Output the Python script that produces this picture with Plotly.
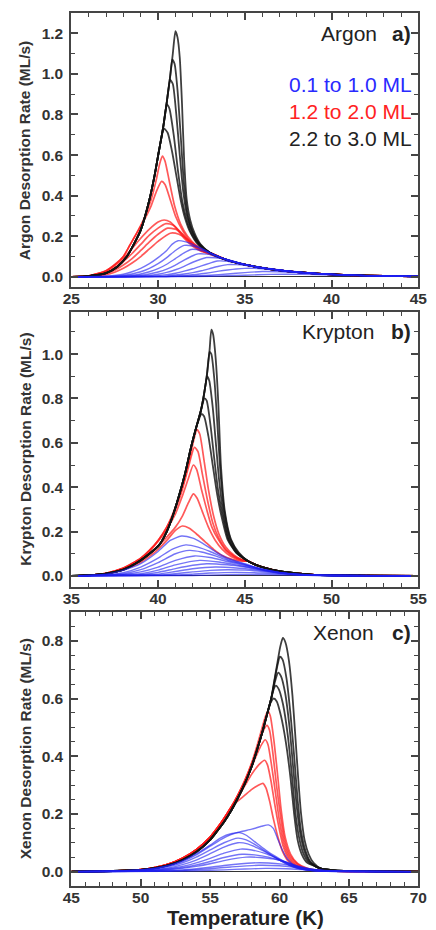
import plotly.graph_objects as go

# ---------------- DATA ----------------
# Argon panel (a)
ARGON_RANGE = [25, 45]
ARGON_BLACK_LEAD = [(25, 0), (26, 0.004), (27, 0.018), (27.65, 0.05), (28.2, 0.1), (28.6, 0.16),
                    (29, 0.23), (29.5, 0.38), (29.8, 0.5), (30.05, 0.62)]
ARGON_BLACK_TOPS = [
    [(30.3, 0.74), (30.5, 0.86), (30.7, 0.99), (30.85, 1.1), (31.0, 1.21), (31.12, 1.18), (31.25, 1.08),
     (31.38, 0.85), (31.5, 0.58), (31.65, 0.38), (31.85, 0.28), (32.1, 0.215), (32.45, 0.16)],
    [(30.3, 0.74), (30.5, 0.86), (30.7, 0.99), (30.82, 1.07), (30.95, 1.05), (31.12, 0.92), (31.3, 0.7),
     (31.5, 0.45), (31.72, 0.3), (32.0, 0.22), (32.4, 0.16)],
    [(30.3, 0.74), (30.5, 0.86), (30.7, 0.97), (30.85, 0.95), (31.05, 0.8), (31.25, 0.6), (31.45, 0.42),
     (31.7, 0.29), (32.0, 0.215), (32.4, 0.16)],
    [(30.3, 0.74), (30.5, 0.85), (30.65, 0.83), (30.9, 0.7), (31.15, 0.52), (31.4, 0.37), (31.65, 0.28),
     (31.95, 0.21), (32.4, 0.155)],
    [(30.35, 0.73), (30.55, 0.71), (30.8, 0.62), (31.05, 0.5), (31.3, 0.38), (31.55, 0.29), (31.85, 0.22),
     (32.3, 0.16)],
]
ARGON_TAIL = [(33, 0.118), (34, 0.082), (35, 0.06), (36, 0.044), (37, 0.032), (38, 0.023), (40, 0.012),
              (42, 0.006), (45, 0.002)]
ARGON_RED_LEAD = [(25, 0), (26, 0.005), (27, 0.03), (27.5, 0.06), (28, 0.1), (28.4, 0.16), (28.8, 0.22)]
ARGON_RED_TOPS = [
    [(29.2, 0.29), (29.6, 0.38), (29.9, 0.48), (30.1, 0.56), (30.25, 0.595), (30.4, 0.57), (30.65, 0.47),
     (30.95, 0.35), (31.3, 0.26), (31.7, 0.2), (32.2, 0.155)],
    [(29.2, 0.28), (29.6, 0.35), (29.9, 0.42), (30.2, 0.47), (30.4, 0.455), (30.7, 0.38), (31.0, 0.3),
     (31.4, 0.23), (31.8, 0.18), (32.3, 0.145)],
]
ARGON_RED_LOW = [
    [(25, 0), (26, 0.005), (27, 0.028), (27.5, 0.055), (28, 0.09), (28.5, 0.14), (29, 0.19), (29.5, 0.235),
     (30, 0.27), (30.35, 0.28), (30.7, 0.27), (31.1, 0.235), (31.5, 0.19), (32, 0.15), (32.5, 0.125)],
    [(25, 0), (26, 0.004), (27, 0.022), (27.5, 0.045), (28, 0.075), (28.5, 0.115), (29, 0.16), (29.5, 0.205),
     (30, 0.24), (30.45, 0.262), (30.85, 0.255), (31.3, 0.22), (31.7, 0.18), (32.2, 0.145), (32.7, 0.12)],
    [(25, 0), (26, 0.003), (27, 0.016), (27.5, 0.033), (28, 0.058), (28.5, 0.09), (29, 0.13), (29.5, 0.172),
     (30, 0.21), (30.55, 0.24), (31, 0.235), (31.4, 0.21), (31.8, 0.175), (32.3, 0.14), (32.8, 0.118)],
    [(25, 0), (26, 0.002), (27, 0.011), (27.5, 0.023), (28, 0.042), (28.5, 0.068), (29, 0.1), (29.5, 0.138),
     (30, 0.175), (30.7, 0.215), (31.2, 0.21), (31.6, 0.19), (32, 0.165), (32.5, 0.135), (33, 0.113),
     (33.5, 0.098)],
]
ARGON_BLUE = [
    [(25, 0), (26, 0.001), (27, 0.004), (28, 0.013), (28.5, 0.025), (29, 0.042), (29.5, 0.065), (30, 0.095),
     (30.5, 0.13), (30.8, 0.16), (31.15, 0.178), (31.6, 0.172), (32, 0.16), (32.5, 0.14), (33, 0.118),
     (33.5, 0.098), (34, 0.083)],
    [(25, 0), (27, 0.002), (28, 0.007), (28.5, 0.014), (29, 0.025), (29.5, 0.042), (30, 0.065), (30.5, 0.095),
     (31, 0.13), (31.5, 0.155), (32, 0.152), (32.5, 0.138), (33, 0.118), (33.5, 0.1), (34, 0.083)],
    [(25, 0), (27.5, 0.002), (28.5, 0.008), (29, 0.014), (29.5, 0.025), (30, 0.04), (30.5, 0.062), (31, 0.09),
     (31.5, 0.118), (31.9, 0.135), (32.5, 0.13), (33, 0.116), (33.5, 0.1), (34, 0.084)],
    [(25, 0), (28, 0.002), (29, 0.008), (29.5, 0.014), (30, 0.024), (30.5, 0.038), (31, 0.058), (31.5, 0.082),
     (32, 0.104), (32.3, 0.113), (32.8, 0.112), (33.3, 0.103), (34, 0.085)],
    [(25, 0), (28.5, 0.002), (29.5, 0.007), (30, 0.013), (30.5, 0.022), (31, 0.035), (31.5, 0.052), (32, 0.072),
     (32.5, 0.088), (32.8, 0.095), (33.3, 0.094), (34, 0.085)],
    [(25, 0), (29, 0.002), (30, 0.006), (30.5, 0.011), (31, 0.018), (31.5, 0.028), (32, 0.04), (32.5, 0.054),
     (33, 0.068), (33.4, 0.078), (34, 0.077), (34.5, 0.071), (35, 0.063)],
    [(25, 0), (29.5, 0.002), (30.5, 0.005), (31, 0.009), (31.5, 0.014), (32, 0.021), (32.5, 0.03), (33, 0.041),
     (33.5, 0.052), (34, 0.06), (34.5, 0.06), (35, 0.057), (36, 0.046), (37, 0.034), (38, 0.024)],
    [(25, 0), (30, 0.001), (31, 0.004), (32, 0.01), (32.5, 0.015), (33, 0.021), (33.5, 0.028), (34, 0.034),
     (34.5, 0.039), (35, 0.042), (35.5, 0.042), (36, 0.04), (37, 0.033), (38, 0.025)],
    [(25, 0), (30.5, 0.001), (32, 0.004), (33, 0.008), (34, 0.014), (35, 0.021), (36, 0.026), (37, 0.025),
     (38, 0.021), (39, 0.016), (40, 0.012)],
    [(25, 0), (31, 0.001), (33, 0.003), (35, 0.008), (36.5, 0.012), (37.5, 0.013), (39, 0.011), (41, 0.007),
     (43, 0.004), (45, 0.002)],
]
ARGON_BLUE_TAIL = [(35, 0.06), (36, 0.044), (37, 0.033), (38, 0.023), (40, 0.012), (42, 0.006), (45, 0.002)]

# Krypton panel (b)
KRYPTON_RANGE = [35, 55]
KRYPTON_BLACK_LEAD = [(35, 0), (36, 0.003), (37, 0.01), (38, 0.028), (38.8, 0.06), (39.5, 0.1), (40.07, 0.14),
                      (40.5, 0.2), (40.8, 0.26), (41.2, 0.36), (41.55, 0.46), (41.9, 0.58), (42.2, 0.67)]
KRYPTON_BLACK_TOPS = [
    [(42.45, 0.74), (42.65, 0.82), (42.82, 0.91), (42.97, 1.02), (43.07, 1.11), (43.17, 1.09), (43.32, 0.98),
     (43.47, 0.78), (43.62, 0.5), (43.85, 0.29), (44.2, 0.165), (44.65, 0.105)],
    [(42.45, 0.74), (42.65, 0.82), (42.82, 0.91), (42.97, 1.01), (43.07, 1.0), (43.25, 0.88), (43.42, 0.68),
     (43.58, 0.48), (43.8, 0.3), (44.15, 0.17), (44.6, 0.105)],
    [(42.45, 0.74), (42.65, 0.82), (42.83, 0.9), (42.95, 0.88), (43.15, 0.76), (43.35, 0.58), (43.52, 0.43),
     (43.75, 0.29), (44.1, 0.165), (44.55, 0.105)],
    [(42.45, 0.74), (42.68, 0.8), (42.8, 0.79), (43.02, 0.68), (43.25, 0.52), (43.45, 0.39), (43.7, 0.28),
     (44.05, 0.165), (44.5, 0.105)],
    [(42.5, 0.73), (42.65, 0.72), (42.9, 0.63), (43.15, 0.5), (43.4, 0.37), (43.65, 0.27), (44.0, 0.165),
     (44.5, 0.105)],
]
KRYPTON_TAIL = [(45.2, 0.066), (45.6, 0.051), (46, 0.04), (47, 0.021), (48, 0.011), (49, 0.005), (50, 0.003),
                (52, 0.001), (55, 0)]
KRYPTON_RED = [
    [(35, 0), (36, 0.003), (37, 0.012), (38, 0.035), (39, 0.08), (39.5, 0.115), (40, 0.16), (40.5, 0.22),
     (41, 0.31), (41.4, 0.4), (41.8, 0.52), (42.05, 0.61), (42.24, 0.66), (42.4, 0.64), (42.65, 0.52),
     (42.9, 0.39), (43.2, 0.27), (43.5, 0.19), (43.9, 0.13), (44.4, 0.092), (44.8, 0.075)],
    [(35, 0), (36, 0.003), (37, 0.012), (38, 0.035), (39, 0.08), (39.5, 0.115), (40, 0.16), (40.5, 0.22),
     (41, 0.3), (41.4, 0.39), (41.75, 0.49), (42.1, 0.58), (42.3, 0.56), (42.55, 0.46), (42.85, 0.34),
     (43.15, 0.24), (43.5, 0.17), (43.9, 0.12), (44.4, 0.088), (44.8, 0.073)],
    [(35, 0), (36, 0.003), (37, 0.012), (38, 0.034), (39, 0.078), (39.5, 0.112), (40, 0.155), (40.5, 0.21),
     (41, 0.28), (41.4, 0.36), (41.75, 0.44), (42.03, 0.5), (42.22, 0.48), (42.5, 0.39), (42.8, 0.3),
     (43.1, 0.22), (43.5, 0.16), (43.9, 0.115), (44.4, 0.085), (44.8, 0.072)],
    [(35, 0), (36, 0.003), (37, 0.011), (38, 0.032), (39, 0.072), (39.5, 0.1), (40, 0.135), (40.5, 0.175),
     (41, 0.22), (41.4, 0.27), (41.75, 0.33), (42.03, 0.37), (42.25, 0.35), (42.55, 0.29), (42.9, 0.22),
     (43.3, 0.16), (43.7, 0.12), (44.2, 0.088), (44.8, 0.07)],
    [(35, 0), (36, 0.003), (37, 0.01), (38, 0.028), (39, 0.062), (39.5, 0.088), (40, 0.12), (40.5, 0.16),
     (41, 0.205), (41.4, 0.225), (41.8, 0.215), (42.2, 0.19), (42.7, 0.155), (43.2, 0.12), (43.7, 0.092),
     (44.3, 0.074), (44.8, 0.066)],
]
KRYPTON_BLUE = [
    [(35, 0), (36, 0.002), (37, 0.008), (38, 0.025), (39, 0.055), (40, 0.11), (40.7, 0.16), (41.35, 0.18),
     (42, 0.17), (42.5, 0.15), (43, 0.125), (43.5, 0.1), (44, 0.08), (45, 0.055), (46, 0.03), (47, 0.016),
     (48, 0.007), (50, 0.002), (55, 0)],
    [(35, 0), (37, 0.005), (38, 0.015), (39, 0.04), (40, 0.08), (40.8, 0.12), (41.6, 0.14), (42.3, 0.13),
     (43, 0.11), (44, 0.075), (45, 0.052), (46, 0.03), (47, 0.015), (48, 0.007), (50, 0.002), (55, 0)],
    [(35, 0), (38, 0.01), (39, 0.028), (40, 0.06), (41, 0.1), (41.8, 0.115), (42.5, 0.108), (43.3, 0.09),
     (44, 0.07), (45, 0.05), (46, 0.03), (47, 0.015), (48, 0.007), (50, 0.002), (55, 0)],
    [(35, 0), (38, 0.006), (39, 0.018), (40, 0.04), (41, 0.07), (42.1, 0.09), (43, 0.083), (44, 0.065),
     (45, 0.047), (46, 0.028), (47, 0.014), (48, 0.006), (50, 0.002), (55, 0)],
    [(35, 0), (39, 0.01), (40, 0.026), (41, 0.05), (42.4, 0.07), (43.5, 0.063), (44.5, 0.05), (46, 0.027),
     (47, 0.014), (48, 0.006), (50, 0.002), (55, 0)],
    [(35, 0), (39, 0.006), (40, 0.016), (41, 0.033), (42, 0.048), (42.8, 0.055), (44, 0.05), (45, 0.04),
     (46, 0.026), (47, 0.014), (48.5, 0.005), (50, 0.002), (55, 0)],
    [(35, 0), (40, 0.008), (41, 0.02), (42, 0.032), (43.3, 0.04), (44.5, 0.036), (46, 0.024), (47, 0.013),
     (48.5, 0.005), (50, 0.002), (55, 0)],
    [(35, 0), (40, 0.004), (41, 0.01), (42, 0.018), (43, 0.025), (44, 0.028), (45, 0.026), (46, 0.02),
     (47, 0.012), (48, 0.006), (50, 0.002), (55, 0)],
    [(35, 0), (41, 0.004), (42, 0.008), (43, 0.013), (44.5, 0.016), (46, 0.013), (47.5, 0.008), (49, 0.003),
     (55, 0)],
    [(35, 0), (42, 0.002), (44, 0.006), (45, 0.007), (47, 0.005), (49, 0.002), (55, 0)],
]

# Xenon panel (c)
XENON_RANGE = [45, 70]
XENON_BLACK_LEAD = [(45, 0), (48, 0.002), (50, 0.006), (51, 0.012), (52, 0.022), (53, 0.04), (54, 0.068),
                    (55, 0.11), (55.5, 0.14), (56, 0.172), (56.5, 0.21), (57, 0.255), (57.5, 0.305), (58, 0.365),
                    (58.4, 0.425), (58.8, 0.49), (59.1, 0.545)]
XENON_BLACK_TOPS = [
    [(59.4, 0.6), (59.65, 0.67), (59.85, 0.725), (60.05, 0.78), (60.24, 0.81), (60.42, 0.795), (60.68, 0.73),
     (60.93, 0.61), (61.15, 0.46), (61.35, 0.32), (61.55, 0.2), (61.8, 0.11), (62.1, 0.06), (62.45, 0.03)],
    [(59.4, 0.6), (59.65, 0.665), (59.85, 0.715), (60.03, 0.745), (60.22, 0.735), (60.5, 0.67), (60.8, 0.54),
     (61.07, 0.39), (61.3, 0.25), (61.55, 0.14), (61.85, 0.075), (62.2, 0.036)],
    [(59.4, 0.6), (59.65, 0.655), (59.9, 0.69), (60.1, 0.678), (60.4, 0.62), (60.72, 0.5), (61.0, 0.35),
     (61.25, 0.22), (61.5, 0.13), (61.8, 0.07), (62.15, 0.035)],
    [(59.4, 0.6), (59.6, 0.635), (59.73, 0.645), (59.95, 0.632), (60.25, 0.58), (60.6, 0.47), (60.9, 0.33),
     (61.15, 0.2), (61.4, 0.12), (61.7, 0.065), (62.1, 0.032)],
    [(59.35, 0.585), (59.57, 0.6), (59.8, 0.59), (60.1, 0.54), (60.45, 0.45), (60.8, 0.32), (61.05, 0.2),
     (61.3, 0.11), (61.6, 0.06), (62.0, 0.03)],
]
XENON_TAIL = [(62.6, 0.018), (63, 0.01), (64, 0.004), (65, 0.002), (67, 0.0008), (70, 0)]
XENON_RED_LEAD = [(45, 0), (48, 0.002), (50, 0.007), (51, 0.014), (52, 0.026), (53, 0.046), (54, 0.076),
                  (55, 0.12), (55.5, 0.15), (56, 0.184), (56.5, 0.222)]
XENON_RED_TOPS = [
    [(57, 0.266), (57.5, 0.316), (58, 0.378), (58.4, 0.44), (58.75, 0.5), (59.0, 0.54), (59.16, 0.556),
     (59.33, 0.54), (59.58, 0.46), (59.85, 0.34), (60.1, 0.22), (60.4, 0.12), (60.8, 0.06), (61.3, 0.028),
     (62, 0.011)],
    [(57, 0.266), (57.5, 0.316), (58, 0.375), (58.4, 0.43), (58.75, 0.48), (59.09, 0.507), (59.28, 0.49),
     (59.52, 0.41), (59.78, 0.3), (60.05, 0.2), (60.35, 0.11), (60.75, 0.055), (61.3, 0.026), (62, 0.01)],
    [(57, 0.264), (57.5, 0.31), (58, 0.365), (58.4, 0.41), (58.7, 0.44), (58.97, 0.457), (59.17, 0.44),
     (59.42, 0.37), (59.7, 0.275), (59.98, 0.18), (60.3, 0.1), (60.7, 0.05), (61.2, 0.024), (62, 0.009)],
    [(57, 0.258), (57.5, 0.298), (58, 0.338), (58.5, 0.37), (58.93, 0.386), (59.13, 0.37), (59.38, 0.315),
     (59.65, 0.235), (59.95, 0.155), (60.25, 0.09), (60.65, 0.045), (61.2, 0.02), (62, 0.008)],
    [(57, 0.245), (57.5, 0.265), (58, 0.285), (58.5, 0.3), (58.8, 0.306), (59.02, 0.29), (59.28, 0.245),
     (59.57, 0.18), (59.88, 0.12), (60.2, 0.072), (60.6, 0.038), (61.2, 0.017), (62, 0.007)],
]
XENON_RED_TAIL = [(63, 0.003), (64, 0.0015), (66, 0.0005), (70, 0)]
XENON_BLUE = [
    [(45, 0), (48, 0.002), (50, 0.006), (51, 0.011), (52, 0.02), (53, 0.035), (54, 0.058), (55, 0.088),
     (55.8, 0.112), (56.5, 0.128), (57.2, 0.138), (58, 0.147), (58.7, 0.157), (59.2, 0.162), (59.55, 0.15),
     (59.85, 0.115), (60.2, 0.075), (60.6, 0.042), (61.1, 0.02), (61.8, 0.008), (63, 0.002), (70, 0)],
    [(45, 0), (48, 0.002), (50, 0.006), (51, 0.011), (52, 0.021), (53, 0.037), (54, 0.062), (55, 0.092),
     (55.8, 0.118), (56.5, 0.131), (57.1, 0.135), (57.6, 0.126), (58.2, 0.104), (59, 0.075), (59.8, 0.05),
     (60.5, 0.03), (61.2, 0.014), (62, 0.005), (63.5, 0.001), (70, 0)],
    [(45, 0), (48, 0.0015), (50, 0.005), (51, 0.009), (52, 0.017), (53, 0.03), (54, 0.05), (55, 0.075),
     (56, 0.1), (57, 0.116), (57.6, 0.11), (58.3, 0.092), (59, 0.07), (59.8, 0.046), (60.5, 0.027),
     (61.3, 0.011), (62.3, 0.004), (64, 0.001), (70, 0)],
    [(45, 0), (48, 0.001), (50, 0.004), (52, 0.013), (53, 0.024), (54, 0.04), (55, 0.062), (56, 0.085),
     (57, 0.1), (57.7, 0.096), (58.4, 0.082), (59.2, 0.062), (60, 0.04), (60.8, 0.021), (61.6, 0.009),
     (62.6, 0.003), (64, 0.001), (70, 0)],
    [(45, 0), (50, 0.003), (52, 0.01), (53, 0.018), (54, 0.03), (55, 0.046), (56, 0.064), (57.2, 0.078),
     (58, 0.075), (59, 0.062), (60, 0.042), (61, 0.022), (62, 0.008), (63.5, 0.002), (70, 0)],
    [(45, 0), (50, 0.002), (52, 0.008), (53, 0.014), (54, 0.023), (55, 0.035), (56, 0.049), (57.3, 0.06),
     (58.2, 0.058), (59.2, 0.05), (60.2, 0.036), (61.2, 0.019), (62.2, 0.007), (63.5, 0.002), (70, 0)],
    [(45, 0), (50, 0.0015), (52, 0.006), (53, 0.011), (54, 0.018), (55, 0.027), (56, 0.038), (57.6, 0.05),
     (58.6, 0.049), (59.6, 0.043), (60.6, 0.031), (61.6, 0.016), (62.6, 0.006), (64, 0.0015), (70, 0)],
    [(45, 0), (51, 0.002), (53, 0.006), (54, 0.01), (55, 0.015), (56, 0.021), (58, 0.03), (59.2, 0.03),
     (60.2, 0.026), (61.2, 0.018), (62.2, 0.009), (63.5, 0.003), (70, 0)],
    [(45, 0), (51, 0.001), (53, 0.004), (55, 0.01), (56.5, 0.016), (58.5, 0.022), (60, 0.02), (61.2, 0.014),
     (62.3, 0.007), (63.5, 0.002), (70, 0)],
    [(45, 0), (52, 0.001), (54, 0.003), (56, 0.006), (57.5, 0.009), (59, 0.011), (60.5, 0.01), (62, 0.006),
     (63.5, 0.002), (70, 0)],
]

GAS_NAMES = ["Argon", "Krypton", "Xenon"]
PANEL_LABELS = ["a)", "b)", "c)"]
LEGEND_TEXTS = ["0.1 to 1.0 ML", "1.2 to 2.0 ML", "2.2 to 3.0 ML"]
Y_RANGES = [[-0.05, 1.3], [-0.05, 1.19], [-0.05, 0.9]]
Y_MINOR = [0.1, 0.1, 0.05]
X_TITLE = "Temperature (K)"

# ---------------- STYLE ----------------
BLUE = "rgba(30,30,240,0.62)"
RED = "rgba(255,25,25,0.72)"
BLACK = "rgba(20,20,20,0.82)"
FONT = "Liberation Sans, Arial, Helvetica, sans-serif"
W, H = 436, 930
X_DOM = [65 / W, 427 / W]
PANEL_PX = [(13, 287), (312, 587), (612, 886)]
NAME_RIGHT_PX = [386, 383, 383]


def join(*parts):
    pts = []
    for part in parts:
        for p in part:
            if not pts or p[0] > pts[-1][0]:
                pts.append(p)
    return pts


def tail_after(pts, tail):
    last = pts[-1][0]
    return join(pts, [p for p in tail if p[0] > last + 0.25])


panels = [
    dict(rng=ARGON_RANGE,
         blue=[tail_after(c, ARGON_BLUE_TAIL) for c in ARGON_BLUE],
         red=[tail_after(join(ARGON_RED_LEAD, t), ARGON_TAIL) for t in ARGON_RED_TOPS]
             + [tail_after(c, ARGON_TAIL) for c in ARGON_RED_LOW],
         black=[tail_after(join(ARGON_BLACK_LEAD, t), ARGON_TAIL) for t in ARGON_BLACK_TOPS]),
    dict(rng=KRYPTON_RANGE,
         blue=KRYPTON_BLUE,
         red=[tail_after(c, KRYPTON_TAIL) for c in KRYPTON_RED],
         black=[tail_after(join(KRYPTON_BLACK_LEAD, t), KRYPTON_TAIL) for t in KRYPTON_BLACK_TOPS]),
    dict(rng=XENON_RANGE,
         blue=XENON_BLUE,
         red=[tail_after(join(XENON_RED_LEAD, t), XENON_RED_TAIL) for t in XENON_RED_TOPS],
         black=[tail_after(join(XENON_BLACK_LEAD, t), XENON_TAIL) for t in XENON_BLACK_TOPS]),
]

fig = go.Figure()
for i, p in enumerate(panels):
    xa = "x" if i == 0 else f"x{i + 1}"
    ya = "y" if i == 0 else f"y{i + 1}"
    for group, color, width in (("red", RED, 1.7), ("black", BLACK, 1.8), ("blue", BLUE, 1.4)):
        for curve in p[group]:
            fig.add_trace(go.Scatter(
                x=[q[0] for q in curve], y=[q[1] for q in curve],
                mode="lines", line=dict(color=color, width=width, shape="spline", smoothing=0.6),
                xaxis=xa, yaxis=ya, showlegend=False, hoverinfo="skip"))

axis_common = dict(
    showline=True, linewidth=2, linecolor="#454545", mirror="allticks",
    ticks="inside", ticklen=7, tickwidth=1.5, tickcolor="#454545",
    showgrid=False,
    tickfont=dict(family=FONT, size=15.5, color="#333333", weight="bold"),
)

layout = dict(width=W, height=H, margin=dict(l=0, r=0, t=0, b=0),
              paper_bgcolor="white", plot_bgcolor="white", showlegend=False)
annotations = []
for i, p in enumerate(panels):
    top, bot = PANEL_PX[i]
    xk = "xaxis" if i == 0 else f"xaxis{i + 1}"
    yk = "yaxis" if i == 0 else f"yaxis{i + 1}"
    ya = "y" if i == 0 else f"y{i + 1}"
    xa = "x" if i == 0 else f"x{i + 1}"
    layout[xk] = dict(axis_common, domain=X_DOM, anchor=ya, range=p["rng"], tick0=p["rng"][0], dtick=5,
                      zeroline=False, ticklabelstandoff=-4,
                      minor=dict(ticks="inside", ticklen=4, tickwidth=1.2, tickcolor="#454545", dtick=1,
                                 showgrid=False))
    layout[yk] = dict(axis_common, domain=[1 - bot / H, 1 - top / H], anchor=xa, range=Y_RANGES[i],
                      tick0=0, dtick=0.2, tickformat=".1f", ticklabelstandoff=3,
                      zeroline=True, zerolinecolor="#333333", zerolinewidth=1.3,
                      minor=dict(ticks="inside", ticklen=4, tickwidth=1.2, tickcolor="#454545",
                                 dtick=Y_MINOR[i], showgrid=False))
    yc = 1 - (top + bot) / 2 / H
    annotations.append(dict(text=f"{GAS_NAMES[i]} Desorption Rate (ML/s)", textangle=-90,
                            x=17 / W, y=yc, xref="paper", yref="paper", showarrow=False,
                            xanchor="center", yanchor="middle",
                            font=dict(family=FONT, size=15.5, color="#333333", weight="bold")))
    ty = 1 - (top + 20) / H
    annotations.append(dict(text=GAS_NAMES[i], x=NAME_RIGHT_PX[i] / W, y=ty, xref="paper", yref="paper",
                            showarrow=False, xanchor="right", yanchor="middle",
                            font=dict(family=FONT, size=21, color="#222222")))
    annotations.append(dict(text=PANEL_LABELS[i], x=421 / W, y=ty, xref="paper", yref="paper",
                            showarrow=False, xanchor="right", yanchor="middle",
                            font=dict(family=FONT, size=21, color="#222222", weight="bold")))

for txt, col, ypx in zip(LEGEND_TEXTS, ["#2a2aff", "#ff2222", "#222222"], [84, 111, 138]):
    annotations.append(dict(text=txt, x=422 / W, y=1 - ypx / H, xref="paper", yref="paper",
                            showarrow=False, xanchor="right", yanchor="middle",
                            font=dict(family=FONT, size=21, color=col)))

annotations.append(dict(text=X_TITLE, x=247 / W, y=1 - 917 / H, xref="paper", yref="paper",
                        showarrow=False, xanchor="center", yanchor="middle",
                        font=dict(family=FONT, size=20.5, color="#222222", weight="bold")))
layout["annotations"] = annotations
fig.update_layout(**layout)

fig.write_html("out.html")
